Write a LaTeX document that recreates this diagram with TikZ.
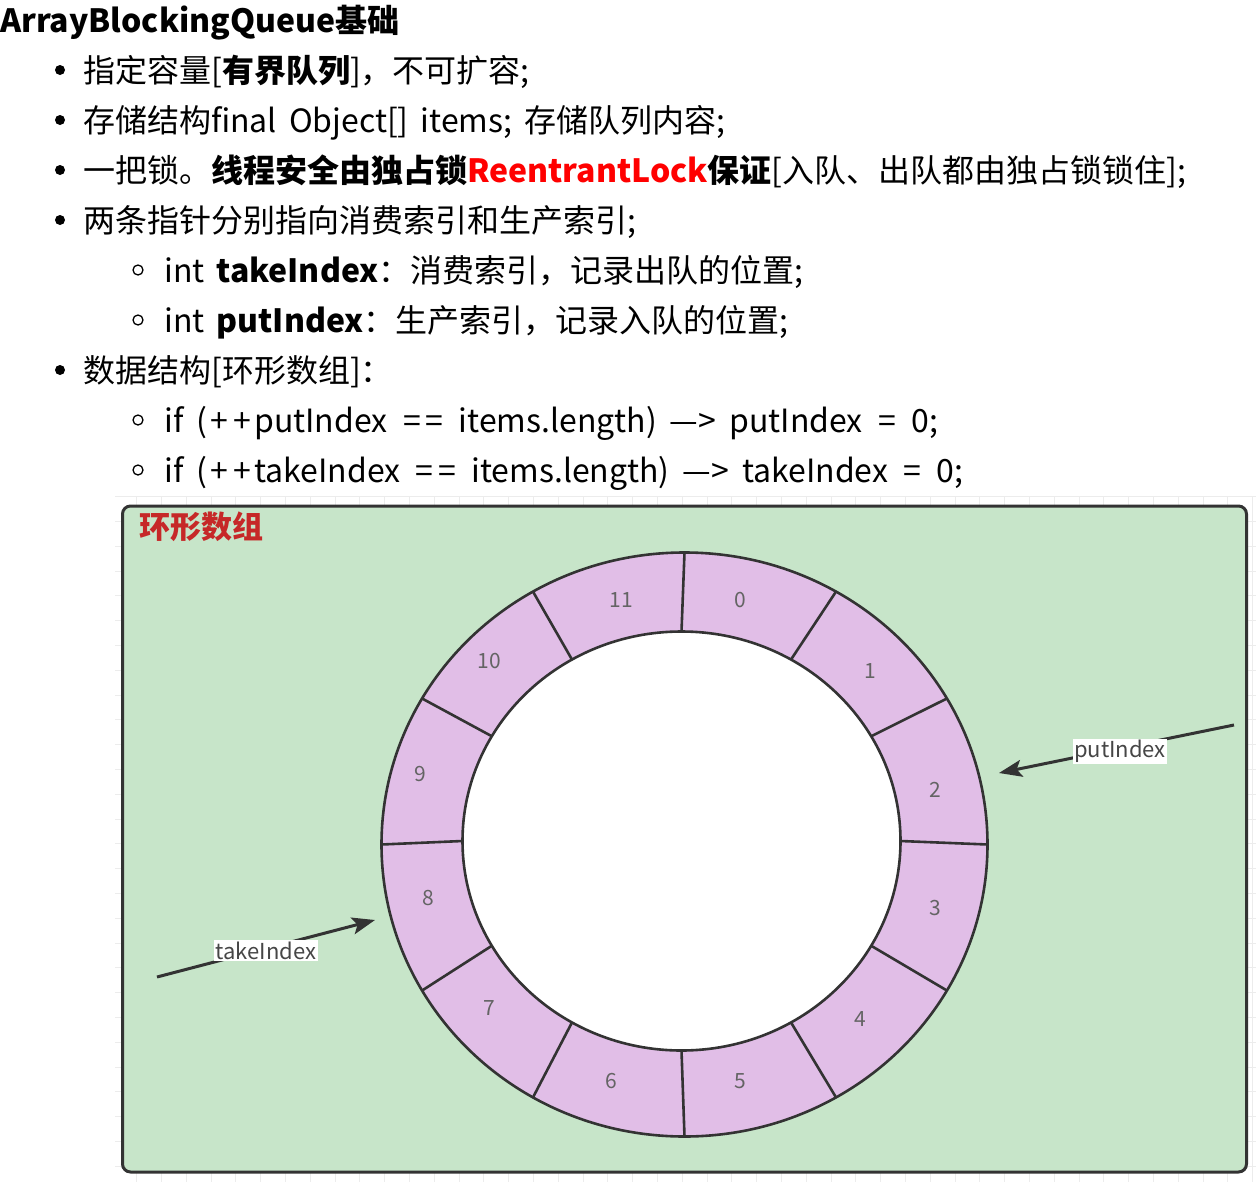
\documentclass[tikz,border=0pt]{standalone}
\usepackage{fontspec}
\setmainfont{Noto Sans CJK SC}
\usetikzlibrary{arrows.meta}
\definecolor{boxgreen}{RGB}{199,229,201}
\definecolor{ringpurple}{RGB}{225,190,231}
\definecolor{titlered}{RGB}{198,40,40}
\definecolor{edgegray}{RGB}{51,51,51}
\definecolor{gridgray}{RGB}{236,236,236}
\definecolor{numgray}{RGB}{100,100,100}
\definecolor{lblgray}{RGB}{70,70,70}
\newcommand\wplus{\makebox[23.5pt]{+}}
\newcommand\weq{\makebox[22.5pt]{=}}
\newlength\widespace
\setlength\widespace{12pt}
\newlength\widerspace
\setlength\widerspace{13pt}
\tikzset{
  textline/.style={anchor=base west, inner sep=0pt, font=\fontsize{32}{32}\selectfont, execute at begin node={\spaceskip=\widespace}},
  codeline/.style={anchor=base west, inner sep=0pt, font=\fontsize{32}{32}\selectfont, execute at begin node={\spaceskip=\widerspace}},
  bulletdot/.style={fill=black, draw=none},
  subbullet/.style={draw=black, line width=1.3pt, fill=none},
  ringline/.style={draw=edgegray, line width=2.6pt},
  numlbl/.style={font=\fontsize{21}{21}\selectfont, text=numgray, inner sep=0pt},
  ptrarrow/.style={draw=edgegray, line width=3pt, -{Stealth[length=23pt, width=17pt, inset=5pt]}},
  ptrlbl/.style={fill=white, inner sep=1.5pt, text=lblgray, font=\fontsize{22}{22}\selectfont},
}
\begin{document}
\begin{tikzpicture}[x=1pt, y=-1pt]
\useasboundingbox (0,0) rectangle (1256,1191);
\fill[white] (0,0) rectangle (1256,1191);

% text block
\node[textline, font=\fontsize{32}{32}\selectfont\bfseries] (title) at (0,32) {ArrayBlockingQueue基础};
\fill[bulletdot] (60,70) circle (5);
\node[textline] (l1) at (83,82) {指定容量[\textbf{有界队列}]，不可扩容;};
\fill[bulletdot] (60,120) circle (5);
\node[textline] (l2) at (83,132) {存储结构final Object[] items; 存储队列内容;};
\fill[bulletdot] (60,170) circle (5);
\node[textline] (l3) at (83,182) {一把锁。\textbf{线程安全由独占锁\textcolor{red}{ReentrantLock}保证}[入队、出队都由独占锁锁住];};
\fill[bulletdot] (60,220) circle (5);
\node[textline] (l4) at (83,232) {两条指针分别指向消费索引和生产索引;};
\draw[subbullet] (138,270) circle (5);
\node[textline] (l5) at (164,282) {int \textbf{takeIndex}：消费索引，记录出队的位置;};
\draw[subbullet] (138,320) circle (5);
\node[textline] (l6) at (164,332) {int \textbf{putIndex}：生产索引，记录入队的位置;};
\fill[bulletdot] (60,370) circle (5);
\node[textline] (l7) at (83,382) {数据结构[环形数组]：};
\draw[subbullet] (138,420) circle (5);
\node[codeline] (l8) at (164,432) {if (\wplus\wplus putIndex \weq\weq\ items.length) —> putIndex \weq\ 0;};
\draw[subbullet] (138,470) circle (5);
\node[codeline] (l9) at (164,482) {if (\wplus\wplus takeIndex \weq\weq\ items.length) —> takeIndex \weq\ 0;};

% faint grid behind the box
\begin{scope}
\clip (115,496) rectangle (1256,1182);
\foreach \gx in {0,...,46} {
  \draw[gridgray, line width=1pt] ({136.7+24.8*\gx},496) -- ({136.7+24.8*\gx},1182);
}
\foreach \gy in {0,...,27} {
  \draw[gridgray, line width=1pt] (115,{496.7+24.8*\gy}) -- (1256,{496.7+24.8*\gy});
}
\end{scope}

% green frame
\draw[draw=edgegray, line width=3pt, fill=boxgreen, rounded corners=8pt] (122.5,506) rectangle (1246.5,1172);
\node[anchor=west, inner sep=0pt, text=titlered, font=\fontsize{31}{31}\selectfont\bfseries] (ringtitle) at (139,527) {环形数组};

% ring
\fill[ringpurple] (684.5,844.5) ellipse [x radius=303, y radius=292];
\draw[ringline] (684.5,844.5) ellipse [x radius=303, y radius=292];
\draw[ringline, fill=white] (681.5,841) ellipse [x radius=219, y radius=209.5];
\foreach \k in {0,...,11} {
  \pgfmathsetmacro{\a}{90-30*\k}
  \draw[ringline] ({681.5+219*cos(\a)},{841-209.5*sin(\a)}) -- ({684.5+303*cos(\a)},{844.5-292*sin(\a)});
}
\node[numlbl] (n0) at (740,600) {0};
\node[numlbl] (n1) at (870,671) {1};
\node[numlbl] (n2) at (935,790) {2};
\node[numlbl] (n3) at (935,908) {3};
\node[numlbl] (n4) at (860,1019) {4};
\node[numlbl] (n5) at (740,1081) {5};
\node[numlbl] (n6) at (611,1081) {6};
\node[numlbl] (n7) at (489,1008) {7};
\node[numlbl] (n8) at (428,898) {8};
\node[numlbl] (n9) at (420,774) {9};
\node[numlbl] (n10) at (489,661) {10};
\node[numlbl] (n11) at (621,600) {11};

% pointers
\coordinate (putstart) at (1234,725);
\coordinate (putend) at (999,773);
\coordinate (takestart) at (157,977);
\coordinate (takeend) at (375,920);
\draw[ptrarrow] (putstart) -- node[ptrlbl, pos=0.485, yshift=-3pt] (putlbl) {putIndex} (putend);
\draw[ptrarrow] (takestart) -- node[ptrlbl, pos=0.5, yshift=-2pt] (takelbl) {takeIndex} (takeend);
\end{tikzpicture}
\end{document}
